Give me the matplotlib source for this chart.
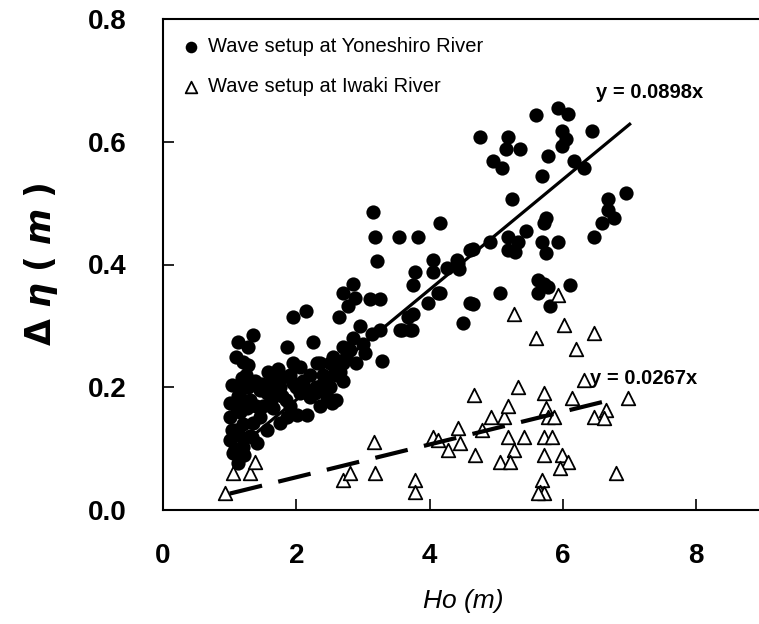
import matplotlib.pyplot as plt
import numpy as np

# wave setup observations, Yoneshiro River (Ho in m, setup in m)
yone_ho = [
    5.59, 5.92, 6.08, 6.44, 4.76, 5.17, 5.14, 5.36, 5.99, 6.04, 5.99, 5.77,
    4.95, 5.09, 6.16, 6.31, 5.69, 5.23, 6.67, 6.95, 6.68, 6.76, 6.59, 6.46,
    5.74, 5.71, 5.45, 5.18, 5.32, 5.18, 4.91, 4.65, 4.43, 4.44, 5.69, 5.92,
    5.74, 5.62, 5.77, 5.63, 6.11, 5.06, 4.65, 4.50, 3.56, 3.71, 4.13, 3.98,
    3.75, 5.71, 5.81, 5.28,
    3.15, 3.18, 3.54, 3.83, 4.16, 3.21, 4.05, 4.41, 3.78, 4.05, 4.26, 3.75,
    4.16, 2.85, 2.70, 2.88, 2.78, 3.11, 3.26, 2.15, 2.64, 3.68, 3.59, 3.74,
    3.14, 3.26, 2.25, 2.70, 2.81, 3.03, 3.29, 4.61, 4.61, 2.36, 2.51, 2.70,
    1.95, 1.86, 1.13, 1.35, 1.28, 1.20, 1.28, 1.04, 1.01, 1.01, 1.04, 1.01,
    1.05, 1.13, 1.20, 1.34, 1.35, 1.26, 1.16, 1.31, 1.46, 1.56, 1.65, 1.80,
    1.95, 2.06, 2.21, 2.31, 2.06, 2.21, 2.01, 2.16, 1.65, 1.46, 1.56, 1.41,
    1.86, 1.76, 1.10, 1.15, 1.20, 1.25, 1.10, 1.40, 1.50, 1.60, 1.70, 1.75,
    1.85, 1.90, 2.00, 2.10, 2.30, 2.40, 2.50, 2.55, 2.60, 1.30, 1.15, 1.20,
    1.10, 1.90, 2.35, 2.60, 2.70, 2.90, 2.46, 2.54, 3.00, 2.95, 1.22, 1.08,
    2.45, 2.58, 2.66, 2.40, 2.28, 1.58, 1.72, 1.95, 2.12, 1.48, 1.62, 1.78,
    1.38, 1.18, 1.27, 1.12, 2.85, 2.75,
]
yone_setup = [
    0.644, 0.655, 0.646, 0.618, 0.607, 0.607, 0.589, 0.589, 0.618, 0.605, 0.593, 0.576,
    0.569, 0.558, 0.569, 0.558, 0.545, 0.507, 0.507, 0.517, 0.488, 0.476, 0.467, 0.444,
    0.476, 0.467, 0.455, 0.444, 0.436, 0.423, 0.436, 0.426, 0.403, 0.393, 0.436, 0.436,
    0.418, 0.374, 0.363, 0.353, 0.367, 0.354, 0.335, 0.304, 0.293, 0.293, 0.353, 0.337,
    0.320, 0.369, 0.333, 0.420,
    0.486, 0.444, 0.444, 0.444, 0.467, 0.405, 0.407, 0.407, 0.387, 0.387, 0.395, 0.366,
    0.353, 0.369, 0.354, 0.345, 0.333, 0.343, 0.343, 0.324, 0.315, 0.314, 0.293, 0.293,
    0.286, 0.293, 0.273, 0.265, 0.260, 0.255, 0.242, 0.423, 0.337, 0.239, 0.239, 0.239,
    0.315, 0.265, 0.273, 0.285, 0.265, 0.241, 0.236, 0.203, 0.174, 0.151, 0.130, 0.114,
    0.093, 0.076, 0.102, 0.119, 0.141, 0.167, 0.184, 0.179, 0.195, 0.190, 0.211, 0.216,
    0.207, 0.233, 0.220, 0.239, 0.190, 0.184, 0.154, 0.154, 0.167, 0.151, 0.130, 0.109,
    0.151, 0.141, 0.130, 0.160, 0.200, 0.220, 0.250, 0.170, 0.170, 0.200, 0.190, 0.200,
    0.180, 0.220, 0.200, 0.210, 0.200, 0.220, 0.200, 0.250, 0.220, 0.120, 0.120, 0.140,
    0.170, 0.170, 0.170, 0.180, 0.210, 0.240, 0.184, 0.174, 0.270, 0.300, 0.090, 0.100,
    0.215, 0.230, 0.225, 0.200, 0.190, 0.225, 0.230, 0.240, 0.200, 0.205, 0.180, 0.185,
    0.210, 0.215, 0.200, 0.185, 0.280, 0.250,
]

# wave setup observations, Iwaki River
iwaki_ho = [
    0.93, 1.05, 1.31, 1.38, 2.70, 2.81, 3.17, 3.18, 3.78, 3.78, 4.05, 4.13,
    4.28, 4.46, 4.43, 4.67, 4.68, 4.79, 4.92, 5.11, 5.18, 5.18, 5.32, 5.26,
    5.06, 5.21, 5.41, 5.26, 5.60, 5.71, 5.74, 5.77, 5.86, 5.71, 5.84, 5.71,
    5.69, 5.66, 5.71, 5.62, 5.93, 6.01, 5.99, 6.08, 5.96, 6.14, 6.19, 6.31,
    6.47, 6.46, 6.64, 6.61, 6.97, 6.79,
]
iwaki_setup = [
    0.028, 0.060, 0.060, 0.078, 0.049, 0.060, 0.111, 0.060, 0.049, 0.029, 0.119, 0.114,
    0.098, 0.109, 0.133, 0.187, 0.089, 0.130, 0.151, 0.151, 0.169, 0.119, 0.200, 0.098,
    0.078, 0.078, 0.119, 0.320, 0.280, 0.190, 0.167, 0.151, 0.151, 0.119, 0.119, 0.089,
    0.049, 0.029, 0.028, 0.028, 0.350, 0.301, 0.089, 0.078, 0.068, 0.182, 0.262, 0.211,
    0.289, 0.151, 0.163, 0.150, 0.182, 0.060,
]

# fitted slopes through the origin
slope_yone = 0.0898
slope_iwaki = 0.0267
fit_range_yone = [1.2, 7.0]
fit_range_iwaki = [1.0, 6.8]

W, H = 759, 624
fig = plt.figure(figsize=(W / 100, H / 100), dpi=100)
ax = fig.add_axes([163 / W, 1 - 510 / H, 600 / W, 491 / H])

ax.scatter(yone_ho, yone_setup, s=105, marker='o', color='black',
           linewidths=0, label='Wave setup at Yoneshiro River', zorder=3)
ax.scatter(iwaki_ho, iwaki_setup, s=95, marker='^', facecolors='white',
           edgecolors='black', linewidths=1.3,
           label='Wave setup at Iwaki River', zorder=4)

xf = np.array(fit_range_yone)
ax.plot(xf, slope_yone * xf, color='black', lw=2.3, zorder=5)
xf = np.array(fit_range_iwaki)
ax.plot(xf, slope_iwaki * xf, color='black', lw=3, dashes=(8, 4), zorder=5)

ax.text(6.49, 0.68, f'y = {slope_yone}x', fontsize=14.5, fontweight='bold',
        ha='left', va='center', family='Liberation Sans')
ax.text(6.41, 0.215, f'y = {slope_iwaki}x', fontsize=14.5, fontweight='bold',
        ha='left', va='center', family='Liberation Sans', zorder=6)

ax.set_xlim(0, 9)
ax.set_ylim(0, 0.8)
ax.set_xticks([0, 2, 4, 6, 8])
ax.set_yticks([0.0, 0.2, 0.4, 0.6, 0.8])
ax.set_yticklabels(['0.0', '0.2', '0.4', '0.6', '0.8'])
ax.tick_params(axis='both', direction='in', length=8, width=1.2,
               labelsize=20)
ax.tick_params(axis='x', pad=24)
ax.tick_params(axis='y', pad=26)
for lbl in ax.get_xticklabels() + ax.get_yticklabels():
    lbl.set_fontweight('bold')
    lbl.set_family('Liberation Sans')
for side in ['left', 'bottom', 'top']:
    ax.spines[side].set_linewidth(1.5)
ax.spines['right'].set_visible(False)

ax.set_xlabel('Ho (m)', fontsize=19, fontstyle='italic', labelpad=14,
              family='Liberation Sans')
ax.set_ylabel(r'$\mathbf{\Delta}\ \mathbfit{\eta}\ \mathbf{(}\ \mathbfit{m}\ \mathbf{)}$',
              fontsize=25, labelpad=20)

leg = ax.legend(loc='upper left', frameon=False,
                prop={'family': 'Liberation Sans', 'size': 14.5},
                handletextpad=0.35, labelspacing=1.05, borderaxespad=0.5,
                handlelength=1.0, scatterpoints=1)
for h in leg.legend_handles:
    h.set_sizes([70])

fig.savefig('out.png', dpi=100)
